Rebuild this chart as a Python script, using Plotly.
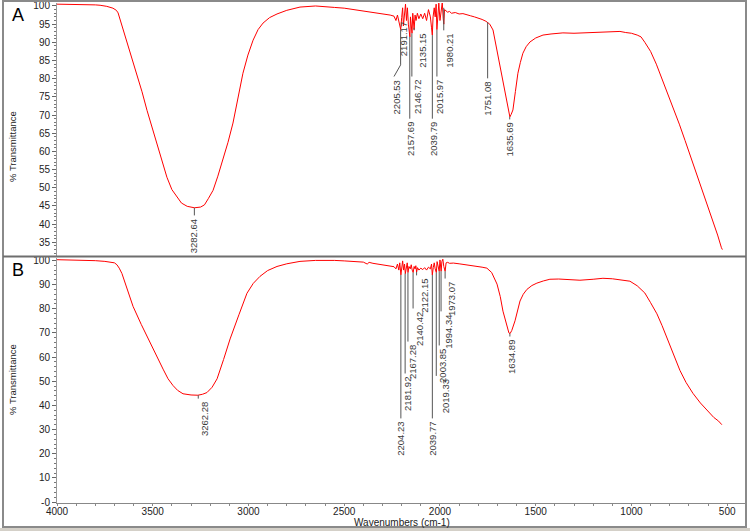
import plotly.graph_objects as go
from plotly.subplots import make_subplots

# ---- spectrum A (wavenumber cm-1, % transmittance) ----
wn_a = [4000, 3950, 3900, 3850, 3800, 3775, 3740, 3708, 3690, 3681, 3660, 3634, 3608, 3582, 3556,
        3530, 3504, 3478, 3452, 3426, 3400, 3373, 3350, 3320, 3282, 3250, 3230, 3210, 3185, 3160,
        3133, 3107, 3081, 3055, 3029, 3003, 2976, 2950, 2924, 2890, 2851, 2800, 2731, 2650, 2600,
        2550, 2500, 2450, 2400, 2350, 2300, 2260, 2240, 2230, 2222, 2215, 2208, 2205, 2200, 2195,
        2191, 2186, 2180, 2175, 2170, 2165, 2160, 2157, 2154, 2150, 2146, 2142, 2138, 2135, 2130,
        2125, 2118, 2110, 2100, 2090, 2080, 2070, 2060, 2050, 2044, 2040, 2036, 2030, 2025, 2020,
        2016, 2012, 2006, 2000, 1995, 1988, 1983, 1980, 1976, 1970, 1960, 1950, 1940, 1920, 1900,
        1880, 1860, 1840, 1820, 1800, 1780, 1760, 1751, 1740, 1723, 1705, 1687, 1668, 1650, 1640,
        1635, 1628, 1619, 1606, 1593, 1580, 1567, 1550, 1530, 1500, 1462, 1420, 1358, 1300, 1232,
        1150, 1100, 1060, 1030, 1000, 970, 950, 930, 900, 870, 840, 810, 780, 750, 720,
        690, 660, 630, 600, 570, 550, 530, 525]
t_a = [100.5, 100.5, 100.4, 100.3, 100.3, 100.2, 99.9, 99.4, 98.8, 98.1, 94.5, 89.8, 85.6, 81.5, 76.4,
       71.3, 66.8, 62.3, 57.6, 52.9, 49.5, 47.4, 45.8, 44.9, 44.5, 44.7, 45.3, 47.0, 49.3, 53.2,
       57.6, 62.5, 67.8, 74.5, 81.5, 86.5, 90.6, 93.5, 95.3, 96.8, 97.8, 98.8, 99.7, 100.0, 99.9,
       99.6, 99.4, 99.0, 98.6, 98.3, 97.8, 97.5, 97.2, 96.0, 97.5, 95.5, 94.0, 93.5, 96.8, 99.5,
       94.5, 98.5, 100.5, 96.0, 99.5, 95.0, 92.5, 91.5, 97.0, 94.0, 92.5, 98.0, 95.0, 93.5, 97.5,
       96.0, 98.0, 96.5, 97.8, 96.5, 98.0, 96.0, 99.0, 97.0, 94.0, 92.0, 97.0, 99.5, 97.0, 100.5,
       93.5, 98.0, 100.8, 96.0, 99.0, 101.0, 96.5, 95.0, 99.0, 98.8, 98.3, 98.5, 98.0, 98.2, 97.8,
       97.9, 97.5, 97.3, 97.0, 96.7, 96.3, 95.8, 95.5, 95.0, 93.4, 88.5, 83.2, 78.0, 73.3, 69.8,
       69.5, 70.2, 71.4, 76.5, 81.5, 84.5, 87.0, 88.8, 90.1, 91.2, 92.0, 92.3, 92.6, 92.5, 92.6,
       92.7, 92.8, 93.0, 92.7, 92.5, 92.0, 91.5, 90.0, 87.5, 84.0, 80.0, 76.0, 72.0, 67.5, 63.0,
       58.5, 54.0, 49.5, 45.0, 40.5, 37.0, 33.5, 33.0]

# ---- spectrum B ----
wn_b = [4000, 3900, 3800, 3750, 3700, 3687, 3675, 3661, 3632, 3603, 3560, 3514, 3480, 3446, 3420,
        3394, 3370, 3342, 3300, 3264, 3240, 3217, 3190, 3164, 3130, 3096, 3050, 3008, 2975, 2940,
        2900, 2851, 2800, 2731, 2650, 2600, 2550, 2500, 2450, 2400, 2380, 2370, 2350, 2320, 2290,
        2260, 2240, 2230, 2222, 2215, 2210, 2204, 2200, 2195, 2190, 2185, 2181, 2176, 2171, 2167,
        2162, 2155, 2150, 2145, 2140, 2135, 2130, 2126, 2122, 2117, 2110, 2100, 2090, 2080, 2070,
        2060, 2050, 2044, 2040, 2035, 2030, 2025, 2019, 2015, 2010, 2004, 2000, 1997, 1994, 1990,
        1985, 1980, 1973, 1968, 1960, 1950, 1930, 1900, 1870, 1840, 1810, 1780, 1755, 1730, 1702,
        1685, 1671, 1650, 1640, 1634, 1625, 1608, 1595, 1582, 1565, 1546, 1520, 1494, 1460, 1426,
        1380, 1300, 1269, 1200, 1149, 1100, 1050, 1008, 970, 930, 900, 867, 840, 815, 780,
        747, 715, 679, 640, 606, 570, 545, 528]
t_b = [100.3, 100.2, 99.9, 99.6, 99.0, 98.2, 96.8, 94.6, 88.0, 81.0, 73.5, 65.8, 60.0, 55.0, 51.0,
       48.2, 46.2, 44.8, 44.3, 44.2, 44.6, 45.3, 47.5, 51.0, 59.0, 67.5, 77.5, 86.4, 90.5, 93.4,
       95.8, 97.5, 98.6, 99.6, 100.0, 100.1, 100.0, 99.8, 99.5, 99.3, 98.5, 99.2, 98.8, 98.4, 98.0,
       97.6, 97.4, 96.5, 98.5, 96.0, 99.0, 94.0, 97.5, 99.8, 96.0, 98.5, 94.5, 97.5, 99.0, 95.0,
       97.5, 96.5, 98.2, 96.0, 95.0, 97.5, 96.5, 97.8, 95.2, 97.0, 96.0, 96.8, 96.2, 97.0, 96.0,
       97.2, 96.5, 98.5, 94.0, 97.0, 99.0, 96.5, 95.0, 99.5, 97.0, 95.5, 100.2, 97.5, 95.5, 99.5,
       100.5, 97.5, 95.5, 99.0, 99.2, 98.8, 98.9, 98.6, 98.3, 98.0, 97.6, 97.2, 96.8, 95.0, 90.2,
       85.0, 79.0, 72.0, 70.0, 69.7, 71.0, 75.0, 79.0, 83.2, 86.0, 88.0, 89.6, 90.6, 91.5, 92.2,
       92.3, 92.0, 91.8, 92.2, 92.6, 92.4, 92.0, 91.4, 89.5, 86.5, 82.5, 77.9, 73.0, 68.0, 61.0,
       54.5, 49.5, 45.0, 41.0, 38.0, 35.0, 33.5, 32.0]

# ---- peak labels: (text, peak position, curve value, text centre, text top) ----
peaks_a = ["3282.64", "2191.17", "2157.69", "2146.72", "2135.15", "2039.79",
           "2015.97", "1980.21", "1751.08", "1635.69"]
peak_x_a = [3282.64, 2191.17, 2157.69, 2146.72, 2135.15, 2039.79, 2015.97, 1980.21, 1751.08, 1635.69]
peak_y_a = [44.5, 96.2, 91.5, 92.5, 94.0, 92.0, 93.5, 99.5, 95.5, 69.5]
label_x_a = [3282.64, 2191.17, 2157.69, 2115, 2089, 2037, 2000, 1948, 1749, 1635.69]
label_top_a = [42.0, 96.2, 68.6, 80.2, 92.9, 68.6, 80.2, 92.9, 79.7, 68.4]

peaks_b = ["3262.28", "2204.23", "2181.92", "2167.28", "2140.42", "2122.15", "2039.77",
           "2019.33", "2003.85", "1994.34", "1973.07", "1634.89"]
peak_x_b = [3262.28, 2204.23, 2181.92, 2167.28, 2140.42, 2122.15, 2039.77,
            2019.33, 2003.85, 1994.34, 1973.07, 1634.89]
peak_y_b = [44.2, 94.0, 94.5, 95.0, 95.0, 95.2, 94.0, 95.0, 95.5, 95.5, 95.5, 69.7]
label_x_b = [3232, 2204.23, 2167, 2146, 2104, 2078, 2037, 1974, 1984, 1953, 1937, 1624]
label_top_b = [42.2, 34.0, 52.6, 65.8, 79.5, 93.2, 34.0, 51.6, 64.2, 78.3, 91.9, 67.9]

RED = "#ff0000"
LBL = "#3a3a3a"
lab_font = dict(family="Liberation Sans Narrow, Arial Narrow, Liberation Sans, Arial", size=9.5, color=LBL)
tick_font = dict(family="Liberation Sans, Arial", size=10, color="#222")

fig = make_subplots(rows=2, cols=1)
fig.add_trace(go.Scatter(x=wn_a, y=t_a, mode="lines", line=dict(color=RED, width=1),
                         showlegend=False, hoverinfo="skip"), row=1, col=1)
fig.add_trace(go.Scatter(x=wn_b, y=t_b, mode="lines", line=dict(color=RED, width=1),
                         showlegend=False, hoverinfo="skip"), row=2, col=1)

shapes = []
annots = []


def add_labels(names, px, py, lx, ltop, xr, yr, gap):
    for n, x0, y0, x1, y1 in zip(names, px, py, lx, ltop):
        if y0 - y1 > gap:
            shapes.append(dict(type="line", xref=xr, yref=yr, x0=x0, x1=x0, y0=y0, y1=y1 + gap,
                               line=dict(color="#555", width=1)))
        annots.append(dict(text=n, x=x1, y=y1, xref=xr, yref=yr, textangle=-90,
                           xanchor="center", yanchor="top", showarrow=False, font=lab_font))


add_labels(peaks_a, peak_x_a, peak_y_a, label_x_a, label_top_a, "x", "y", 0.4)
add_labels(peaks_b, peak_x_b, peak_y_b, label_x_b, label_top_b, "x2", "y2", 0.6)

# bent leader for 2205.53 (sits under 2191.17)
shapes.append(dict(type="path", xref="x", yref="y",
                   path="M 2205.53 93.5 L 2205.53 83.8 L 2240 80.6",
                   line=dict(color="#555", width=1)))
annots.append(dict(text="2205.53", x=2222, y=80.2, xref="x", yref="y", textangle=-90,
                   xanchor="center", yanchor="top", showarrow=False, font=lab_font))

# panel letters and axis titles
big = dict(family="Liberation Sans, Arial", size=18, color="black")
small = dict(family="Liberation Sans, Arial", size=9.5, color="#222")
annots += [
    dict(text="A", x=17.5 / 750, y=1 - 15 / 531, xref="paper", yref="paper", showarrow=False,
         xanchor="center", yanchor="middle", font=big),
    dict(text="B", x=17.5 / 750, y=1 - 270 / 531, xref="paper", yref="paper", showarrow=False,
         xanchor="center", yanchor="middle", font=big),
    dict(text="% Transmittance", x=12 / 750, y=1 - 147 / 531, xref="paper", yref="paper",
         textangle=-90, showarrow=False, xanchor="center", yanchor="middle", font=small),
    dict(text="% Transmittance", x=12 / 750, y=1 - 380 / 531, xref="paper", yref="paper",
         textangle=-90, showarrow=False, xanchor="center", yanchor="middle", font=small),
    dict(text="Wavenumbers (cm-1)", x=402 / 750, y=1 - 522 / 531, xref="paper", yref="paper",
         showarrow=False, xanchor="center", yanchor="middle",
         font=dict(family="Liberation Sans, Arial", size=10, color="#222")),
]

# frame
shapes += [
    dict(type="rect", xref="paper", yref="paper", x0=3 / 750, x1=746 / 750, y0=1 - 527 / 531, y1=1 - 1 / 531,
         line=dict(color="#8a8a8a", width=2), layer="above"),
    dict(type="line", xref="paper", yref="paper", x0=3 / 750, x1=746 / 750, y0=1 - 256.5 / 531,
         y1=1 - 256.5 / 531, line=dict(color="#6e6e6e", width=2), layer="above"),
    dict(type="rect", xref="paper", yref="paper", x0=0, x1=1, y0=0, y1=3 / 531,
         fillcolor="#d4d0c8", line=dict(width=0), layer="above"),
]

xdom = [57 / 750, 745 / 750]
fig.update_layout(
    width=750, height=531, margin=dict(l=0, r=0, t=0, b=0, autoexpand=False),
    paper_bgcolor="white", plot_bgcolor="white",
    shapes=shapes, annotations=annots,
    xaxis=dict(domain=xdom, range=[4000, 407], showticklabels=False, showgrid=False,
               zeroline=False, showline=False, ticks="", automargin=False),
    xaxis2=dict(domain=xdom, range=[4000, 407], showgrid=False, zeroline=False, automargin=False,
                showline=True, linecolor="#888", linewidth=1,
                tickmode="linear", tick0=500, dtick=500, ticks="outside", ticklen=2,
                tickcolor="#888", tickfont=tick_font, ticklabelstandoff=-3,
                minor=dict(tickmode="linear", tick0=0, dtick=100, ticks="outside", ticklen=2,
                           tickcolor="#888")),
    yaxis=dict(domain=[1 - 256 / 531, 1 - 3 / 531], range=[31.24, 100.82], showgrid=False,
               zeroline=False, showline=True, linecolor="#999", linewidth=1, automargin=False,
               tickmode="linear", tick0=0, dtick=5, ticks="outside", ticklen=4, tickcolor="#666",
               tickfont=tick_font,
               minor=dict(tickmode="linear", tick0=0, dtick=1, ticks="outside", ticklen=2,
                          tickcolor="#777")),
    yaxis2=dict(domain=[1 - 503 / 531, 1 - 258 / 531], range=[-0.41, 101.0], showgrid=False,
                zeroline=False, showline=True, linecolor="#999", linewidth=1, automargin=False,
                tickmode="array", tickvals=[0, 10, 20, 30, 40, 50, 60, 70, 80, 90, 100],
                ticktext=["-0", "10", "20", "30", "40", "50", "60", "70", "80", "90", "100"],
                ticks="outside", ticklen=4, tickcolor="#666", tickfont=tick_font,
                minor=dict(tickmode="linear", tick0=0, dtick=2, ticks="outside", ticklen=2,
                           tickcolor="#777")),
)

# the page body has an 8px default margin; drop it so the figure fills the window
fig.write_html("out.html", config={"displayModeBar": False},
               post_script="document.body.style.margin='0';")
